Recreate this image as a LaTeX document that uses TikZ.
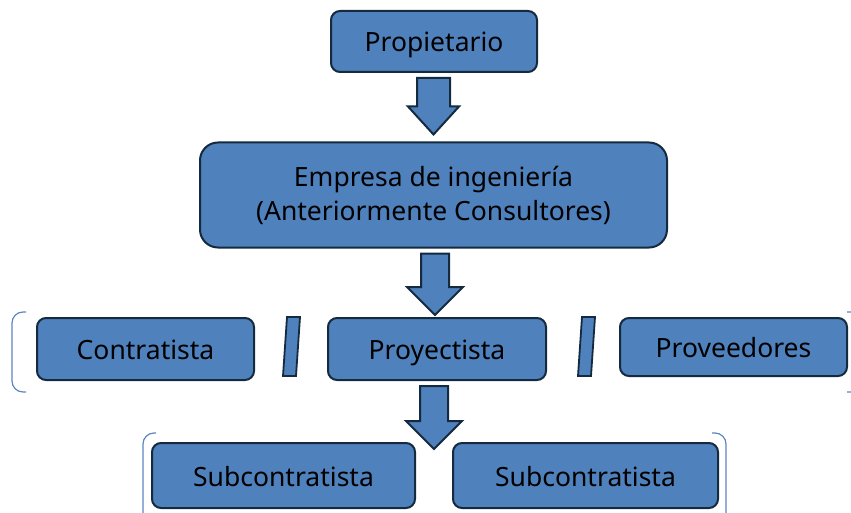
\documentclass[tikz,border=0pt]{standalone}
\usepackage{fontspec}
\setmainfont{Noto Sans}
\usepackage{xcolor}
\usepackage{tikz}
\usetikzlibrary{calc}
\definecolor{boxblue}{RGB}{79,129,189}
\definecolor{boxline}{RGB}{20,42,62}
\definecolor{bracketblue}{RGB}{92,134,192}
% block arrow: source node, tip coordinate, shaft half width, head half width
\newcommand{\blockarrow}[4]{%
  \draw[arrowbody] let \p1=(#1.south), \p2=(#2) in
    (\x2-#3,\y1-5pt) -- (\x2+#3,\y1-5pt) -- (\x2+#3,\y2+28pt) -- (\x2+#4,\y2+28pt)
    -- (\x2,\y2) -- (\x2-#4,\y2+28pt) -- (\x2-#3,\y2+28pt) -- cycle;}

\begin{document}
\begin{tikzpicture}[x=1pt,y=1pt]

        \tikzstyle{box}       = [rectangle, draw=boxline, line width=2pt, fill=boxblue,
                                 rounded corners=9pt, inner sep=0pt, align=center,
                                 font=\fontsize{26.5}{34}\selectfont]
        \tikzstyle{oneline}   = [box, text height=23pt, text depth=2pt]
        \tikzstyle{arrowbody} = [draw=boxline, line width=2pt, fill=boxblue, line join=miter]
        \tikzstyle{bracket}   = [draw=bracketblue, line width=1.2pt, rounded corners=11pt]

        \clip (0,0) rectangle (851,-513);

        \node [oneline, minimum width=206, minimum height=61](prop) at (434,-41.5) {Propietario};
        \node [box, minimum width=467, minimum height=105, rounded corners=18pt](emp) at (433.5,-195)
              {Empresa de ingeniería\\(Anteriormente Consultores)};

        \node [oneline, minimum width=217, minimum height=62](contr) at (145.5,-349) {Contratista};
        \node [oneline, minimum width=218, minimum height=62](proy) at (437,-349) {Proyectista};
        \node [oneline, minimum width=227, minimum height=58](prov) at (733.5,-347) {Proveedores};

        \node [oneline, minimum width=263, minimum height=65](sub1) at (283.5,-475.5) {Subcontratista};
        \node [oneline, minimum width=265, minimum height=65](sub2) at (585.5,-475.5) {Subcontratista};

        \coordinate (t1) at ([yshift=7pt]emp.north);
        \coordinate (t2) at ([xshift=-2pt,yshift=2pt]proy.north);
        \coordinate (t3) at ($(sub1.north east)!0.5!(sub2.north west)+(0,-7)$);

        \blockarrow{prop}{t1}{16.5pt}{25.5pt}
        \blockarrow{emp}{t2}{14pt}{28pt}
        \blockarrow{proy}{t3}{14pt}{28pt}

        % slashes between the boxes of the middle row
        \foreach \x in {283, 578}
        {
                \filldraw [arrowbody, line width=1.8pt] (\x+4,-317) -- (\x+17,-317) -- (\x+13,-376) -- (\x,-376) -- cycle;
        }

        % brackets
        \draw [bracket] (26,-312) -- (12,-312) -- (12,-392) -- (26,-392);
        \draw [bracket] (847,-312) -- (862,-312) -- (862,-392) -- (847,-392);
        \draw [bracket] (156,-433) -- (143,-433) -- (143,-530);
        \draw [bracket] (712,-433) -- (726,-433) -- (726,-530);

\end{tikzpicture}
\end{document}
